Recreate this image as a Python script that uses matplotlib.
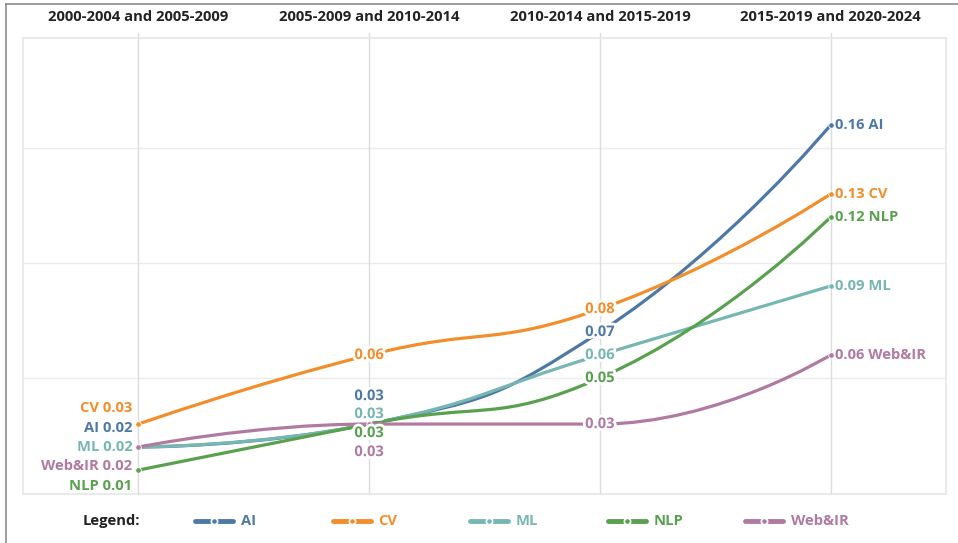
import numpy as np
import matplotlib
matplotlib.use('Agg')
import matplotlib.pyplot as plt
from matplotlib.path import Path
from matplotlib.patches import PathPatch
from matplotlib.lines import Line2D
import matplotlib.patheffects as pe

plt.rcParams['font.family'] = ['Open Sans', 'DejaVu Sans']

periods = ['2000-2004 and 2005-2009', '2005-2009 and 2010-2014',
           '2010-2014 and 2015-2019', '2015-2019 and 2020-2024']
fields = ['AI', 'CV', 'ML', 'NLP', 'Web&IR']
ai = [0.02, 0.03, 0.07, 0.16]
cv = [0.03, 0.06, 0.08, 0.13]
ml = [0.02, 0.03, 0.06, 0.09]
nlp = [0.01, 0.03, 0.05, 0.12]
web_ir = [0.02, 0.03, 0.03, 0.06]
series = [ai, cv, ml, nlp, web_ir]
colors = ['#4e79a7', '#f28e2b', '#76b7b2', '#59a14f', '#b07aa1']

# label offsets (pixels) at first and second column, per series
first_off = [19, 16, 0, -16, -19]
second_off = [28, 0, 10, -9, -28]

FS = 10.6
W, H = 958, 543
fig = plt.figure(figsize=(W / 100, H / 100), dpi=100)
ax = fig.add_axes([23 / W, 1 - 494 / H, (946 - 23) / W, (494 - 38) / H])
ax.set_xlim(-0.5, 3.5)
ax.set_ylim(-0.0004, 0.1978)
ax.set_xticks([])
ax.set_yticks([])
for s in ax.spines.values():
    s.set_color('#e6e6e6')
    s.set_linewidth(1.2)

for yv in [0.05, 0.10, 0.15]:
    ax.axhline(yv, color='#ececec', lw=1, zorder=0)
for i, p in enumerate(periods):
    ax.plot([i, i], [-0.0004, 0.2], color='#dcdcdc', lw=1, zorder=0, clip_on=False)
    ax.text(i, 0.2 + 0.004, p, ha='center', va='bottom', fontsize=FS,
            fontweight='bold', color='#222222')

SX, SY = 230.7, 2300.0


def clamp(v, a, b):
    return min(max(v, min(a, b)), max(a, b))


def smooth_path(xs, ys, k=0.5):
    # bezier smoothing with control points kept inside each segment's box
    px = np.array(xs, float) * SX
    py = np.array(ys, float) * SY
    n = len(px)
    verts = [(px[0], py[0])]
    codes = [Path.MOVETO]
    cp0 = (px[0], py[0])
    for i in range(1, n):
        x, y = px[i], py[i]
        if i == n - 1:
            cp1 = (x, y)
            nxt = None
        else:
            vx = px[i + 1] - px[i - 1]
            vy = py[i + 1] - py[i - 1]
            l0 = np.hypot(x - px[i - 1], y - py[i - 1])
            l1 = np.hypot(px[i + 1] - x, py[i + 1] - y)
            r = l1 / (l0 + l1)
            nx_ = clamp(x + vx * k * r, x, px[i + 1])
            ny_ = clamp(y + vy * k * r, y, py[i + 1])
            vx, vy = nx_ - x, ny_ - y
            c1x = clamp(x - vx * l0 / l1, x, px[i - 1])
            c1y = clamp(y - vy * l0 / l1, y, py[i - 1])
            vx, vy = x - c1x, y - c1y
            nxt = (x + vx * l1 / l0, y + vy * l1 / l0)
            cp1 = (c1x, c1y)
        verts += [cp0, cp1, (x, y)]
        codes += [Path.CURVE4] * 3
        cp0 = nxt
    verts = [(a / SX, b / SY) for a, b in verts]
    return Path(verts, codes)


xs = np.arange(len(periods))
stroke = [pe.withStroke(linewidth=4, foreground='white')]
for j, (name, vals, c) in enumerate(zip(fields, series, colors)):
    ax.add_patch(PathPatch(smooth_path(xs, vals), fc='none', ec=c, lw=2.3,
                           zorder=2 + j, capstyle='round'))
    ax.plot(xs, vals, 'o', ms=4, mfc=c, mec='white', mew=0.6, zorder=2 + j)

# labels
for j, (name, vals, c) in enumerate(zip(fields, series, colors)):
    kw = dict(color=c, fontsize=FS, fontweight='bold', textcoords='offset points',
              zorder=10, annotation_clip=False)
    ax.annotate(f'{name} {vals[0]:.2f}', (xs[0], vals[0]),
                xytext=(-6 * 0.72, first_off[j] * 0.72), ha='right', va='center', **kw)
    ax.annotate(f'{vals[1]:.2f}', (xs[1], vals[1]),
                xytext=(0, second_off[j] * 0.72), ha='center', va='center',
                path_effects=stroke, **kw)
    ax.annotate(f'{vals[2]:.2f}', (xs[2], vals[2]), xytext=(0, 0),
                ha='center', va='center', path_effects=stroke, **kw)
    ax.annotate(f'{vals[3]:.2f} {name}', (xs[3], vals[3]),
                xytext=(4 * 0.72, 0), ha='left', va='center', **kw)

# legend
ly = 1 - 521 / H
fig.text(83 / W, ly, 'Legend:', ha='left', va='center', fontsize=FS,
         fontweight='bold', color='#222222')
for j, (name, c) in enumerate(zip(fields, colors)):
    x0 = (195 + 137.5 * j) / W
    x1 = x0 + 38 / W
    fig.add_artist(Line2D([x0, x1], [ly, ly], color=c, lw=3.5,
                          solid_capstyle='round'))
    fig.add_artist(Line2D([(x0 + x1) / 2], [ly], marker='o', ms=4.5, mfc=c,
                          mec='white', mew=1.2, lw=0))
    fig.text(x1 + 8 / W, ly, name, ha='left', va='center', fontsize=FS,
             fontweight='bold', color=c)

# outer frame
fig.add_artist(Line2D([6 / W, 1], [1 - 4 / H, 1 - 4 / H], color='#8c8c8c', lw=1.2))
fig.add_artist(Line2D([6 / W, 6 / W], [0, 1 - 4 / H], color='#8c8c8c', lw=1.2))

fig.savefig('out.png', dpi=100)
